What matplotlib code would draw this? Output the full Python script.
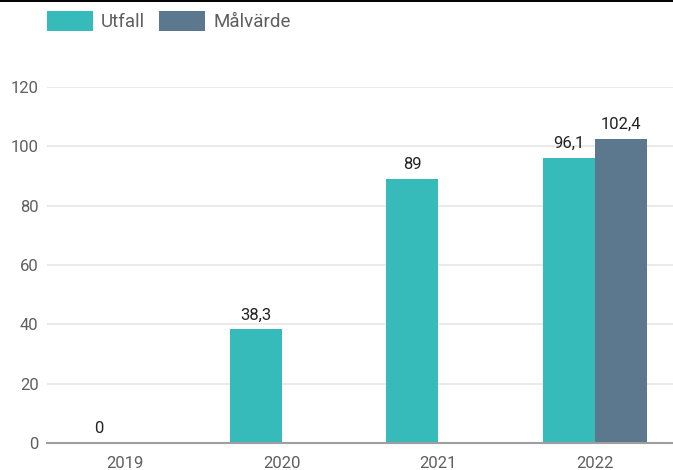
import matplotlib.pyplot as plt
from matplotlib.lines import Line2D

years = ['2019', '2020', '2021', '2022']
utfall = [0, 38.3, 89, 96.1]
malvarde = [None, None, None, 102.4]
utfall_labels = ['0', '38,3', '89', '96,1']
malvarde_labels = ['102,4']

plt.rcParams['font.family'] = ['Roboto', 'DejaVu Sans']

c_utfall = '#36bbba'
c_mal = '#5b788e'
w = 0.332

fig = plt.figure(figsize=(6.73, 4.70), dpi=100)
ax = fig.add_axes([47 / 673, 27 / 470, 626 / 673, 356 / 470])

# grouped slots: Utfall left, Målvärde right of each year
x_u = [i - w / 2 for i in range(len(years))]
x_m = [i + w / 2 for i, m in enumerate(malvarde) if m is not None]
h_m = [m for m in malvarde if m is not None]

b1 = ax.bar(x_u, utfall, width=w, color=c_utfall, label='Utfall', zorder=3)
b2 = ax.bar(x_m, h_m, width=w, color=c_mal, label='Målvärde', zorder=3)
ax.bar_label(b1, labels=utfall_labels, padding=5, fontsize=12, color='#222222')
ax.bar_label(b2, labels=malvarde_labels, padding=5, fontsize=12, color='#222222')

ax.set_xlim(-0.5, 3.5)
ax.set_ylim(0, 120)
ax.set_yticks(range(0, 121, 20))
ax.set_xticks(range(len(years)))
ax.set_xticklabels(years)
ax.grid(axis='y', color='#e6e6e6', linewidth=1.2, zorder=0)
ax.tick_params(axis='both', length=0, labelsize=12, labelcolor='#5f5f5f')
ax.tick_params(axis='y', pad=6)
ax.tick_params(axis='x', pad=9)
for s in ['top', 'right', 'left']:
    ax.spines[s].set_visible(False)
ax.spines['bottom'].set_color('#9e9e9e')
ax.spines['bottom'].set_linewidth(1.5)
ax.spines['bottom'].set_zorder(4)

leg = fig.legend(loc='upper left', bbox_to_anchor=(47 / 673, 1 - 11 / 470), ncol=2,
                 frameon=False, fontsize=13.5, handlelength=2.45, handleheight=1.23,
                 handletextpad=0.43, columnspacing=0.75, borderpad=0, borderaxespad=0)
for t in leg.get_texts():
    t.set_color('#5f5f5f')

fig.add_artist(Line2D([0, 1], [1 - 1 / 470, 1 - 1 / 470], color='black', linewidth=1.4,
                      transform=fig.transFigure))

fig.savefig('out.png', dpi=100)
